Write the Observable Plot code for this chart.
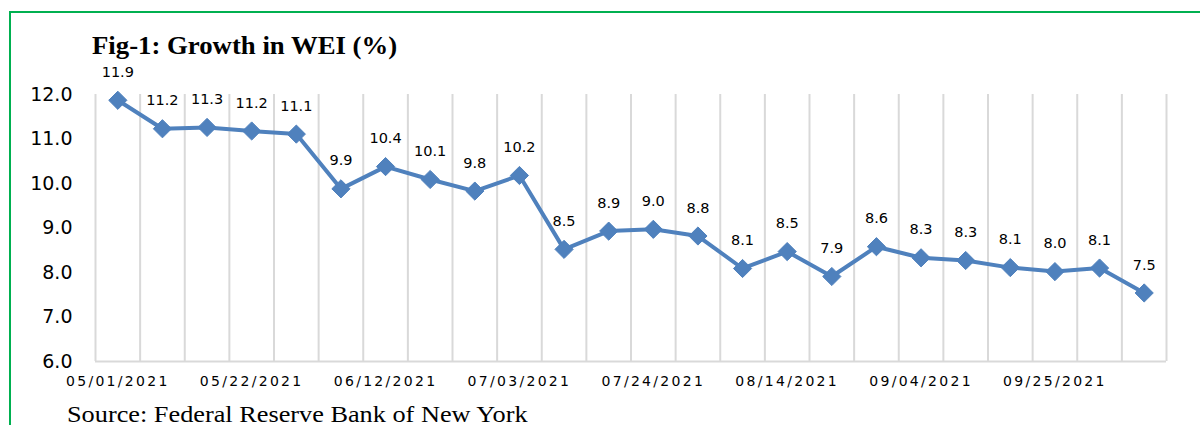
<!DOCTYPE html>
<html>
<head>
<meta charset="utf-8">
<script src="https://cdn.jsdelivr.net/npm/d3@7"></script>
<script src="https://cdn.jsdelivr.net/npm/@observablehq/plot@0.6"></script>
<style>
  html, body { margin: 0; padding: 0; background: #fff; width: 1200px; height: 425px; overflow: hidden; }
  #wrap { position: relative; width: 1200px; height: 425px; }
  #frame { position: absolute; left: 9px; top: 11px; width: 1300px; height: 600px; border: 2px solid #00B050; box-sizing: border-box; }
  #chart { position: absolute; left: 0; top: 0; }
  #title { position: absolute; left: 92px; top: 33px; font-family: "Liberation Serif", serif; font-weight: bold; font-size: 25px; line-height: 1; color: #000; white-space: nowrap; transform: scaleX(1.07); transform-origin: 0 0; }
  #source { position: absolute; left: 67px; top: 402px; font-family: "Liberation Serif", serif; font-size: 24px; line-height: 1; color: #000; white-space: nowrap; transform: scaleX(1.095); transform-origin: 0 0; }
  g[aria-label="x-axis tick label"] text { letter-spacing: 2.3px; }
</style>
</head>
<body>
<div id="wrap">
  <div id="frame"></div>
  <div id="chart"></div>
  <div id="title">Fig-1: Growth in WEI (%)</div>
  <div id="source">Source: Federal Reserve Bank of New York</div>
</div>
<script>
const dates = [
  "05/01/2021","05/08/2021","05/15/2021","05/22/2021","05/29/2021","06/05/2021",
  "06/12/2021","06/19/2021","06/26/2021","07/03/2021","07/10/2021","07/17/2021",
  "07/24/2021","07/31/2021","08/07/2021","08/14/2021","08/21/2021","08/28/2021",
  "09/04/2021","09/11/2021","09/18/2021","09/25/2021","10/02/2021","10/09/2021"
];
const values = [
  11.87, 11.23, 11.26, 11.18, 11.11, 9.88, 10.38, 10.09, 9.83, 10.18, 8.52, 8.93,
  8.97, 8.82, 8.09, 8.47, 7.91, 8.58, 8.33, 8.27, 8.11, 8.02, 8.10, 7.54
];
const labels = [
  "11.9","11.2","11.3","11.2","11.1","9.9","10.4","10.1","9.8","10.2","8.5","8.9",
  "9.0","8.8","8.1","8.5","7.9","8.6","8.3","8.3","8.1","8.0","8.1","7.5"
];
const yTicks = [6, 7, 8, 9, 10, 11, 12];
const xTickEvery = 3;

const data = values.map((v, i) => ({i, date: dates[i], value: v, label: labels[i]}));
const boundaries = d3.range(data.length + 1).map(k => k - 0.5);
const xTicks = d3.range(0, data.length, xTickEvery);

const numFont = "'DejaVu Sans', sans-serif";

const chart = Plot.plot({
  width: 1200,
  height: 425,
  marginLeft: 95,
  marginRight: 34,
  marginTop: 94,
  marginBottom: 64,
  style: {background: "transparent", overflow: "visible"},
  x: {type: "linear", domain: [-0.5, data.length - 0.5]},
  y: {domain: [yTicks[0], yTicks[yTicks.length - 1]]},
  marks: [
    Plot.ruleX(boundaries, {x: d => d, y1: yTicks[0], y2: yTicks[yTicks.length - 1], stroke: "#D9D9D9", strokeWidth: 2}),
    Plot.ruleY([yTicks[0]], {stroke: "#D9D9D9", strokeWidth: 2}),
    Plot.axisY({ticks: yTicks, tickFormat: d => d.toFixed(1), tickSize: 0, tickPadding: 23,
      fontSize: 19, fontFamily: numFont, fill: "#000", label: null}),
    Plot.axisX({ticks: xTicks, tickFormat: i => dates[i], tickSize: 0, tickPadding: 15,
      fontSize: 14, fontFamily: numFont, fill: "#000", label: null}),
    Plot.line(data, {x: "i", y: "value", stroke: "#4F81BD", strokeWidth: 4, strokeLinejoin: "round"}),
    Plot.dot(data, {x: "i", y: "value", symbol: "diamond2", r: 8.2, fill: "#4F81BD", stroke: "#4F81BD", strokeWidth: 1}),
    Plot.text(data, {x: "i", y: "value", text: "label", dy: -28, fontSize: 14.5, fontFamily: numFont, fill: "#000"})
  ]
});
document.getElementById("chart").appendChild(chart);
</script>
</body>
</html>
